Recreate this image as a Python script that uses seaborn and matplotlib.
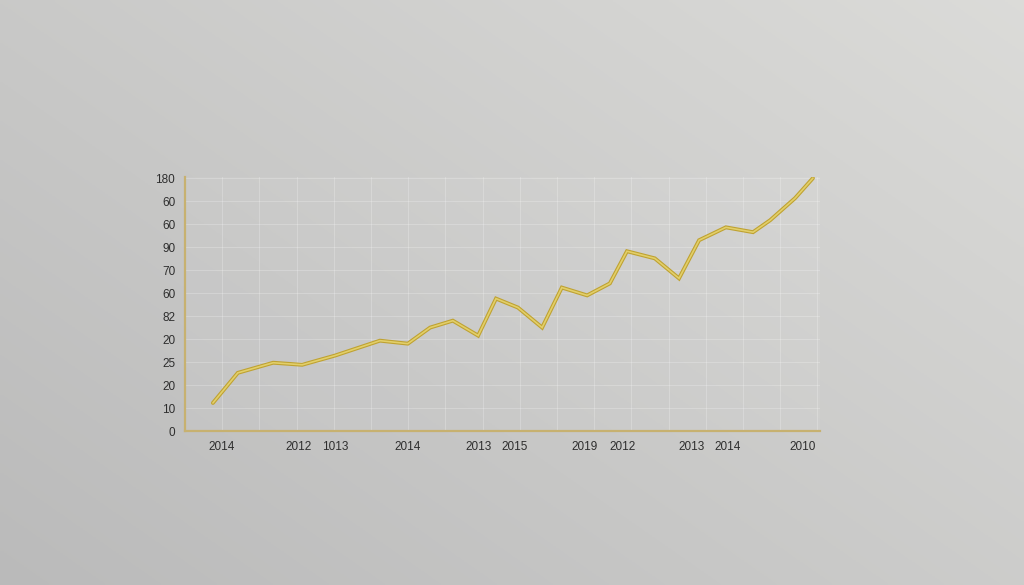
import numpy as np
import pandas as pd
import matplotlib
matplotlib.use("Agg")
import matplotlib.pyplot as plt
import seaborn as sns

# line values (x in grid steps, y in tick steps)
x_vals = [0.75, 1.42, 2.37, 3.15, 4.03, 5.24, 5.99, 6.59, 7.20, 7.88, 8.36, 8.95,
          9.60, 10.13, 10.81, 11.42, 11.88, 12.63, 13.28, 13.82, 14.54, 15.27,
          15.73, 16.40, 16.88]
y_vals = [1.22, 2.53, 2.97, 2.88, 3.28, 3.93, 3.80, 4.50, 4.80, 4.15, 5.76, 5.37,
          4.50, 6.24, 5.90, 6.42, 7.82, 7.51, 6.64, 8.30, 8.86, 8.65, 9.17, 10.13,
          11.0]

x_tick_pos = [0.99, 3.04, 4.03, 5.99, 7.88, 8.87, 10.75, 11.75, 13.63, 14.6, 16.59]
x_tick_labels = ["2014", "2012", "1013", "2014", "2013", "2015", "2019", "2012",
                 "2013", "2014", "2010"]
y_tick_labels = ["0", "10", "20", "25", "20", "82", "60", "70", "90", "60", "60", "180"]

df = pd.DataFrame({"x": x_vals, "y": y_vals})

sns.set_theme(style="white")
plt.rcParams['font.family'] = ['Liberation Sans', 'DejaVu Sans']

fig = plt.figure(figsize=(10.24, 5.85), dpi=100)

# gradient backdrop
bg = fig.add_axes([0, 0, 1, 1], zorder=0)
gx, gy = np.meshgrid(np.linspace(0, 1, 256), np.linspace(0, 1, 256))
grad = 0.55 * gx + 0.45 * (1 - gy)
c0 = np.array([0.73, 0.73, 0.73])
c1 = np.array([0.86, 0.86, 0.85])
img = c0 + (c1 - c0) * grad[..., None]
bg.imshow(img, aspect="auto", extent=[0, 1, 0, 1], origin="upper")
bg.axis("off")

ax = fig.add_axes([185 / 1024, 1 - 431 / 585, 635 / 1024, 254 / 585], zorder=1)
ax.set_facecolor((1, 1, 1, 0.05))

sns.lineplot(data=df, x="x", y="y", ax=ax, color="#bfa232", linewidth=2.8,
             solid_capstyle="round", solid_joinstyle="miter", zorder=3)
sns.lineplot(data=df, x="x", y="y", ax=ax, color="#e2cf6a", linewidth=1.2,
             solid_joinstyle="miter", zorder=4)

ax.set_xlim(0, 17.07)
ax.set_ylim(0, 11.05)
ax.set_xticks(x_tick_pos)
ax.set_xticklabels(x_tick_labels)
ax.set_yticks(range(len(y_tick_labels)))
ax.set_yticklabels(y_tick_labels)
ax.set_xticks(np.arange(1, 17.1, 1), minor=True)
ax.grid(which="minor", axis="x", color="white", alpha=0.22, linewidth=0.8)
ax.grid(which="major", axis="y", color="white", alpha=0.22, linewidth=0.8)
ax.tick_params(axis="both", which="major", labelsize=8.5, colors="#2e2e2e",
               length=3, width=0.8, pad=4)
ax.tick_params(axis="x", which="minor", length=0)
for t in ax.get_xticklines() + ax.get_yticklines():
    t.set_color("#666666")
ax.set_xlabel("")
ax.set_ylabel("")

for side in ["top", "right"]:
    ax.spines[side].set_visible(False)
for side in ["left", "bottom"]:
    ax.spines[side].set_color("#c7b170")
    ax.spines[side].set_linewidth(1.6)

fig.savefig("out.png", dpi=100)
